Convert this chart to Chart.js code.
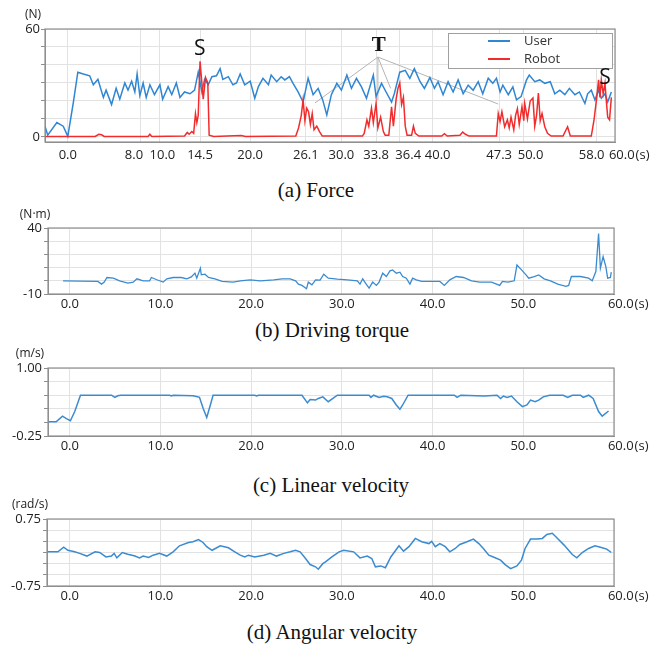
<!DOCTYPE html>
<html><head><meta charset="utf-8">
<script src="https://cdn.jsdelivr.net/npm/chart.js@4.4.1/dist/chart.umd.min.js"></script>
<style>
html,body{margin:0;padding:0;background:#fff}
#wrap{position:relative;width:653px;height:646px;overflow:hidden;background:#fff}
canvas{position:absolute;left:0}
.cap{position:absolute;width:400px;text-align:center;font-family:"Liberation Serif","Times New Roman",serif;font-size:21px;line-height:24px;color:#111;white-space:nowrap}
</style></head><body><div id="wrap">
<canvas id="cForce" width="653" height="175" style="top:0"></canvas>
<div class="cap" style="left:116px;top:178px">(a) Force</div>
<canvas id="cTorque" width="653" height="118" style="top:200px"></canvas>
<div class="cap" style="left:132px;top:318px">(b) Driving torque</div>
<canvas id="cLin" width="653" height="120" style="top:340px"></canvas>
<div class="cap" style="left:131px;top:473px">(c) Linear velocity</div>
<canvas id="cAng" width="653" height="110" style="top:497px"></canvas>
<div class="cap" style="left:132px;top:620px">(d) Angular velocity</div>
</div>
<script>
// ---------- data (time [s], value) ----------
const seriesNames = ['User', 'Robot'];
const userForce = [[-2.5,6],[-2.2,1],[-1.2,8],[-0.5,6],[0,0.3],[0.6,19],[1.1,36],[1.7,35],[2.4,34],[2.8,29],[3.3,32],[3.9,22],[4.2,26],[4.8,18],[5.3,27],[5.7,21],[6.25,30],[6.6,26],[7.0,31],[7.35,25],[7.6,35],[7.9,23],[8.26,30],[8.6,22],[9.0,29],[9.5,23.5],[10.1,29],[10.4,21],[11.0,28],[11.4,23.5],[11.9,30],[12.3,22],[12.8,25],[13.4,24],[13.9,26],[14.3,36],[14.7,25],[15.0,32],[15.4,29],[15.8,33.5],[16.3,34],[16.7,38],[17.0,32],[17.6,33.5],[18.1,29],[18.5,30],[18.9,35],[19.4,29],[20.0,31],[20.5,21.5],[20.9,28],[21.4,32.6],[22.0,29],[22.3,34.4],[22.9,30.7],[23.4,33.5],[23.8,31.7],[24.3,33.5],[24.7,29.8],[25.25,25],[25.8,19.4],[26.35,32.6],[26.9,23.5],[27.45,27],[27.95,20.6],[28.4,12.3],[28.9,23.5],[29.5,29.8],[30.0,26],[30.6,34.4],[31.1,27],[31.65,32.6],[32.2,27.8],[32.75,21.5],[33.5,34.4],[33.8,22.4],[34.4,29.8],[34.9,25],[35.5,19.4],[35.8,24],[36.4,36],[37.0,37],[37.5,32.6],[38.0,38],[38.6,31],[39.1,27],[39.7,33],[40.2,27],[40.6,30.7],[41.15,23.5],[41.7,30.7],[42.25,25],[42.8,31.7],[43.35,24],[43.9,28.8],[44.45,26],[45.0,30.7],[45.5,24],[46.1,32.6],[46.6,29.8],[47.0,32.6],[47.4,25],[47.7,28.8],[48.3,23.5],[48.8,27.8],[49.2,20.6],[49.7,22.4],[50.3,31.7],[50.6,34.4],[51.2,30.7],[51.75,31.7],[52.3,29.8],[52.9,30.7],[53.4,24],[53.95,26],[54.5,23.5],[55.0,27],[55.6,23.5],[56.1,25],[56.7,18.6],[57.0,24],[57.4,26],[57.8,20.6],[58.2,26],[58.5,21.5],[58.9,24],[59.2,19.4],[59.6,25]];
const robotForce = [[-2.5,0.3],[3.0,0.3],[3.4,1.5],[3.7,1.2],[4.0,0.3],[8.8,0.3],[9.0,1.5],[9.2,0.3],[12.8,0.5],[13.1,2.5],[13.3,1.5],[13.6,3],[13.8,2],[14.0,13],[14.15,8],[14.3,12],[14.5,42],[14.7,30],[14.85,21],[15.1,33],[15.35,30],[15.5,1],[16.0,0.3],[19.0,0.8],[19.5,0.3],[25.0,0.5],[25.3,5],[25.6,12],[25.8,20.6],[26.0,9],[26.2,16],[26.4,14],[26.6,7],[26.8,13],[27.0,4],[27.3,6],[27.6,3],[27.9,0.5],[32.3,0.5],[32.5,2],[32.8,9.5],[33.0,6],[33.3,16],[33.5,8],[33.8,18.6],[34.0,5],[34.3,11],[34.6,3],[34.8,1],[35.2,1],[35.5,16.8],[35.7,6],[36.0,21],[36.2,27],[36.4,30],[36.6,18],[36.8,22],[37.0,6],[37.2,1],[37.7,1],[37.9,6],[38.1,2],[38.5,0.5],[41.0,0.5],[41.3,1.8],[41.6,0.5],[43.0,1],[43.3,2.7],[43.6,1.5],[44.0,0.5],[47.0,0.5],[47.2,13],[47.4,8.7],[47.6,14],[47.9,5.7],[48.2,9.5],[48.4,5],[48.6,11],[48.9,4],[49.1,12],[49.3,15.7],[49.5,7],[49.8,16.8],[50.0,9],[50.1,18.6],[50.4,10],[50.7,20],[51.0,21.6],[51.2,6],[51.4,12],[51.6,24.4],[51.8,9],[52.0,13],[52.3,5.7],[52.6,2],[53.0,0.5],[54.3,0.5],[54.8,5.7],[55.1,0.5],[57.4,0.5],[57.7,9.5],[58.0,22],[58.2,31.7],[58.35,22],[58.5,31.7],[58.7,24],[58.9,29.8],[59.05,20],[59.2,11],[59.4,9.5],[59.6,22]];
const drivingTorque = [[-0.74,0],[3.1,-0.5],[3.5,-2.5],[3.8,-1],[4.1,2.5],[4.8,2],[5.5,0],[6.4,-1.75],[7.0,-1],[7.4,1.5],[8.1,0],[8.8,0],[9.0,2.5],[9.6,0.8],[10.3,-1],[10.7,1.5],[11.4,2.5],[12.3,2.5],[12.9,1.5],[13.4,3],[13.8,5.8],[14.0,2],[14.4,9.5],[14.5,4.5],[14.9,5],[15.3,2.5],[16.0,1.5],[16.8,-0.5],[18.0,-1],[18.8,0],[19.9,0.75],[21.0,0],[22.5,0.75],[23.4,1.5],[24.3,1.5],[24.9,0],[25.2,-2.5],[25.6,-3.5],[26.1,-6],[26.3,-1],[26.7,-3],[27.1,0.75],[27.6,0.5],[28.0,5],[28.5,2],[29.5,1.25],[30.6,0.75],[31.7,0],[32.0,-2.5],[32.3,1.5],[32.6,-1.75],[33.0,-5.5],[33.4,-1],[33.8,-3.5],[34.1,-1],[34.5,5.75],[34.9,3.25],[35.3,7.5],[35.6,8.25],[36.0,5.75],[36.4,6.5],[36.7,3.25],[37.1,2],[37.5,-2.5],[37.8,2],[38.2,0.75],[38.8,-0.5],[39.5,-0.5],[40.8,-0.5],[41.3,-3.5],[41.9,0.75],[42.6,3.25],[43.4,2.5],[44.3,0],[45.2,-1],[46.5,-1],[47.4,-3.5],[47.7,-0.5],[48.3,-1],[49.0,0],[49.3,12],[49.7,9],[50.3,4.5],[50.6,2],[51.2,3.25],[51.7,4.5],[52.3,1.5],[53.0,0],[53.8,-2.5],[54.7,-4.25],[55.0,-3.5],[55.3,3.25],[56.3,3.25],[57.2,2],[57.6,0],[58.0,7],[58.3,35.75],[58.5,9.5],[58.8,18.25],[59.1,10.75],[59.3,2],[59.6,2.5],[59.7,6.5]];
const linearVelocity = [[-2.5,0.01],[-1.5,0.01],[-0.8,0.115],[-0.37,0.07],[0.07,0.03],[0.55,0.2],[1.18,0.5],[4.6,0.5],[4.97,0.46],[5.3,0.49],[5.6,0.5],[11.0,0.5],[11.2,0.485],[11.4,0.5],[13.6,0.49],[14.3,0.46],[14.7,0.26],[15.1,0.09],[15.5,0.32],[15.8,0.5],[20.4,0.5],[20.6,0.485],[20.8,0.5],[25.6,0.5],[26.2,0.36],[26.5,0.42],[27.1,0.41],[27.4,0.44],[27.9,0.47],[28.5,0.38],[29.5,0.5],[33.0,0.5],[33.2,0.46],[33.5,0.5],[34.1,0.46],[34.6,0.48],[35.0,0.47],[35.5,0.44],[36.0,0.32],[36.4,0.24],[36.7,0.32],[37.3,0.5],[42.4,0.5],[42.7,0.46],[43.1,0.5],[45.7,0.485],[47.1,0.5],[47.5,0.44],[47.8,0.485],[48.2,0.46],[48.7,0.485],[49.3,0.38],[49.9,0.29],[50.4,0.32],[50.8,0.41],[51.3,0.38],[51.7,0.41],[52.2,0.47],[52.9,0.5],[54.4,0.5],[54.9,0.46],[55.4,0.5],[56.3,0.5],[56.6,0.46],[57.2,0.5],[57.7,0.44],[58.3,0.2],[58.7,0.115],[59.4,0.21]];
const angularVelocity = [[-2.5,0.015],[-1.3,0.015],[-0.66,0.12],[-0.2,0.05],[0.55,0.015],[1.1,-0.02],[1.9,-0.08],[2.8,0.015],[3.3,0],[4.0,-0.1],[4.6,-0.08],[4.9,-0.02],[5.2,-0.12],[5.8,0],[6.4,-0.04],[7.2,-0.08],[7.7,-0.12],[8.1,-0.08],[8.7,-0.11],[9.2,-0.06],[9.9,-0.02],[10.7,-0.08],[11.4,0.015],[12.1,0.15],[13.1,0.225],[13.6,0.24],[14.2,0.29],[14.7,0.225],[15.1,0.13],[15.7,0.05],[16.6,0.15],[17.5,0.105],[18.2,0.015],[18.8,-0.06],[19.3,-0.1],[19.7,-0.06],[20.4,-0.1],[21.4,-0.06],[22.1,-0.02],[22.8,-0.08],[23.6,-0.02],[24.3,0.015],[24.9,0.05],[25.4,0.015],[26.0,-0.135],[26.5,-0.27],[27.1,-0.32],[27.4,-0.375],[27.9,-0.25],[28.2,-0.21],[28.9,-0.1],[29.7,0.015],[30.2,0.05],[31.3,0.015],[32.0,-0.12],[32.8,-0.08],[33.3,-0.135],[33.7,-0.32],[34.3,-0.3],[34.8,-0.34],[35.4,-0.1],[36.3,0.15],[36.8,0.03],[37.4,0.13],[38.1,0.315],[38.8,0.24],[39.6,0.2],[39.9,0.25],[40.3,0.13],[40.8,0.2],[41.4,0.13],[41.9,0.015],[42.5,0.09],[43.0,0.18],[43.8,0.24],[44.5,0.3],[45.1,0.2],[45.6,0.09],[46.2,-0.06],[46.7,-0.1],[47.5,-0.17],[48.0,-0.27],[48.6,-0.36],[49.3,-0.3],[49.8,-0.17],[50.2,0.09],[50.8,0.3],[51.5,0.3],[52.1,0.315],[52.6,0.405],[53.2,0.43],[53.7,0.33],[54.5,0.165],[55.4,-0.045],[55.9,-0.12],[56.5,0],[57.2,0.09],[57.9,0.15],[58.7,0.105],[59.2,0.075],[59.7,0]];

// tick values
const forceXTicks = [0,8,10,14.5,20,26.1,30,33.8,36.4,40,47.3,50,58,60];
const timeXTicks = [0,10,20,30,40,50,60];
const forceYTicks = [0,10,20,30,40,50,60];
const torqueYTicks = [-10,0,10,20,30,40];
const linYTicks = [-0.25,0,0.25,0.5,0.75,1.0];
const angYTicks = [-0.75,-0.5,-0.25,0,0.25,0.5,0.75];
// event annotations in force chart (time, force)
const eventLabels = [['S',14.47,48.6],['T',34.1,50.8],['S',58.9,32.5]];
const turnOrigin = [34.0,44.4];
const turnTargets = [[27.1,18.9],[34.0,20.5],[35.4,27],[47.2,18.3]];

// ---------- rendering ----------
const FONT = '"Open Sans","DejaVu Sans",sans-serif';
const BLUE = '#2f86d2', RED = '#f22c2c', LINE2 = '#3a8bd0', GRID = '#e2e2e2', AXIS = '#8f8f8f', TXT = '#222';
const toXY = arr => arr.map(([x,y]) => ({x, y}));
// label nudges (in spaces): positive = pad left (moves text right), negative = pad right
const forceNudge = {8: -4, 10: 2, 36.4: 5, 40: 3, 50: 4, 58: -3, 60: 4};
const timeNudge = {60: 4};
function nudged(text, n){
  if (!n) return text;
  return n > 0 ? ' '.repeat(n) + text : text + ' '.repeat(-n);
}

function makeChart(id, cfg){
  const cv = document.getElementById(id);
  const a = cfg.area, H = cv.height;
  const xLabel = v => nudged(Number(v).toFixed(1), cfg.nudge[v]);
  const deco = {
    id: 'deco',
    beforeDatasetsDraw(chart){ if (cfg.under) cfg.under(chart); },
    afterDraw(chart){
      const {ctx, chartArea: ca, scales: {x}} = chart;
      ctx.save();
      ctx.strokeStyle = AXIS; ctx.lineWidth = 1.2;
      ctx.strokeRect(ca.left, ca.top, ca.right - ca.left, ca.bottom - ca.top);
      ctx.fillStyle = TXT; ctx.font = '12px ' + FONT; ctx.textAlign = 'center'; ctx.textBaseline = 'middle';
      ctx.fillText(cfg.unit, cfg.unitPos[0], cfg.unitPos[1]);
      ctx.font = cfg.tickSize + 'px ' + FONT;
      const last = cfg.xTicks[cfg.xTicks.length - 1];
      const px = x.getPixelForValue(last);
      const w = ctx.measureText(xLabel(last)).width;
      ctx.textAlign = 'left';
      ctx.fillText('(s)', px + w / 2 + 1, ca.bottom + cfg.xPad + cfg.tickSize * 0.6);
      ctx.restore();
      if (cfg.over) cfg.over(chart);
    }
  };
  return new Chart(cv, {
    type: 'line',
    data: {datasets: cfg.datasets},
    options: {
      responsive: false, animation: false, devicePixelRatio: 1,
      layout: {padding: {top: a.top, right: 653 - a.right, left: 0, bottom: 0}},
      plugins: {legend: {display: false}, tooltip: {enabled: false}},
      elements: {point: {radius: 0}, line: {tension: 0}},
      scales: {
        x: {type: 'linear', min: cfg.xMin, max: cfg.xMax,
            afterBuildTicks: s => { s.ticks = cfg.xTicks.map(v => ({value: v})); },
            afterFit: s => { s.height = H - a.bottom; },
            ticks: {autoSkip: false, maxRotation: 0, minRotation: 0, padding: cfg.xPad, color: TXT,
                    font: {family: FONT, size: cfg.tickSize}, callback: v => xLabel(v)},
            grid: {color: GRID, drawTicks: false},
            border: {display: true, color: AXIS}},
        y: {type: 'linear', min: cfg.yMin, max: cfg.yMax,
            afterBuildTicks: s => { s.ticks = cfg.yTicks.map(v => ({value: v})); },
            afterFit: s => { s.width = a.left; },
            ticks: {autoSkip: false, padding: cfg.yPad, color: TXT, font: {family: FONT, size: cfg.tickSize},
                    callback: v => cfg.yShown.includes(v) ? cfg.yFmt(v) : ''},
            grid: {color: GRID, drawTicks: true, tickLength: 4, tickColor: AXIS},
            border: {display: true, color: AXIS}}
      }
    },
    plugins: [deco]
  });
}

// (a) Force
makeChart('cForce', {
  area: {left: 45, right: 615, top: 29, bottom: 142},
  xMin: -2.5, xMax: 60, xTicks: forceXTicks, nudge: forceNudge, xPad: 5, tickSize: 13,
  yMin: -2.8, yMax: 60, yTicks: forceYTicks, yShown: [0, 60], yFmt: v => String(v), yPad: 1,
  unit: '(N)', unitPos: [33, 15],
  datasets: [
    {label: seriesNames[0], data: toXY(userForce), borderColor: BLUE, borderWidth: 1.5, order: 1},
    {label: seriesNames[1], data: toXY(robotForce), borderColor: RED, borderWidth: 1.5, order: 0}
  ],
  under(chart){
    const {ctx, scales: {x, y}} = chart;
    ctx.save(); ctx.strokeStyle = '#b4b4b4'; ctx.lineWidth = 1;
    const ox = x.getPixelForValue(turnOrigin[0]), oy = y.getPixelForValue(turnOrigin[1]);
    turnTargets.forEach(([t, v]) => {
      ctx.beginPath(); ctx.moveTo(ox, oy); ctx.lineTo(x.getPixelForValue(t), y.getPixelForValue(v)); ctx.stroke();
    });
    ctx.restore();
  },
  over(chart){
    const {ctx, chartArea: ca, scales: {x, y}} = chart;
    ctx.save();
    // legend
    const w = 164, h = 35, x0 = ca.right - 3 - w, y0 = ca.top + 4;
    ctx.fillStyle = '#fff'; ctx.fillRect(x0, y0, w, h);
    ctx.strokeStyle = '#a0a0a0'; ctx.lineWidth = 1; ctx.strokeRect(x0 + 0.5, y0 + 0.5, w, h);
    chart.data.datasets.forEach((ds, i) => {
      const yy = y0 + 8 + i * 18;
      ctx.strokeStyle = ds.borderColor; ctx.lineWidth = 2;
      ctx.beginPath(); ctx.moveTo(x0 + 40, yy); ctx.lineTo(x0 + 62, yy); ctx.stroke();
      ctx.fillStyle = '#333'; ctx.font = '13px ' + FONT; ctx.textAlign = 'left'; ctx.textBaseline = 'middle';
      ctx.fillText(ds.label, x0 + 76, yy);
    });
    // event labels
    ctx.fillStyle = '#111'; ctx.textAlign = 'center'; ctx.textBaseline = 'middle';
    eventLabels.forEach(([s, t, v]) => {
      ctx.font = s === 'T' ? 'bold 21px "Liberation Serif",serif' : '21px ' + FONT;
      ctx.fillText(s, x.getPixelForValue(t), y.getPixelForValue(v));
    });
    ctx.restore();
  }
});

// (b) Driving torque
makeChart('cTorque', {
  area: {left: 48, right: 614, top: 28, bottom: 94},
  xMin: -2.4, xMax: 60, xTicks: timeXTicks, nudge: timeNudge, xPad: 2, tickSize: 13,
  yMin: -10, yMax: 40, yTicks: torqueYTicks, yShown: [-10, 40], yFmt: v => String(v), yPad: 2,
  unit: '(N\u00b7m)', unitPos: [35, 15],
  datasets: [{label: 'Driving torque', data: toXY(drivingTorque), borderColor: LINE2, borderWidth: 1.3}]
});

// (c) Linear velocity
makeChart('cLin', {
  area: {left: 48, right: 614, top: 28, bottom: 96},
  xMin: -2.4, xMax: 60, xTicks: timeXTicks, nudge: timeNudge, xPad: 2, tickSize: 13,
  yMin: -0.25, yMax: 1.0, yTicks: linYTicks, yShown: [-0.25, 1.0], yFmt: v => v.toFixed(2), yPad: 2,
  unit: '(m/s)', unitPos: [30, 14],
  datasets: [{label: 'Linear velocity', data: toXY(linearVelocity), borderColor: LINE2, borderWidth: 1.5}]
});

// (d) Angular velocity
makeChart('cAng', {
  area: {left: 47, right: 614, top: 22, bottom: 89},
  xMin: -2.5, xMax: 60, xTicks: timeXTicks, nudge: timeNudge, xPad: 2, tickSize: 13,
  yMin: -0.75, yMax: 0.75, yTicks: angYTicks, yShown: [-0.75, 0.75], yFmt: v => v.toFixed(2), yPad: 2,
  unit: '(rad/s)', unitPos: [30, 8],
  datasets: [{label: 'Angular velocity', data: toXY(angularVelocity), borderColor: LINE2, borderWidth: 1.5}]
});
</script>
</body></html>
